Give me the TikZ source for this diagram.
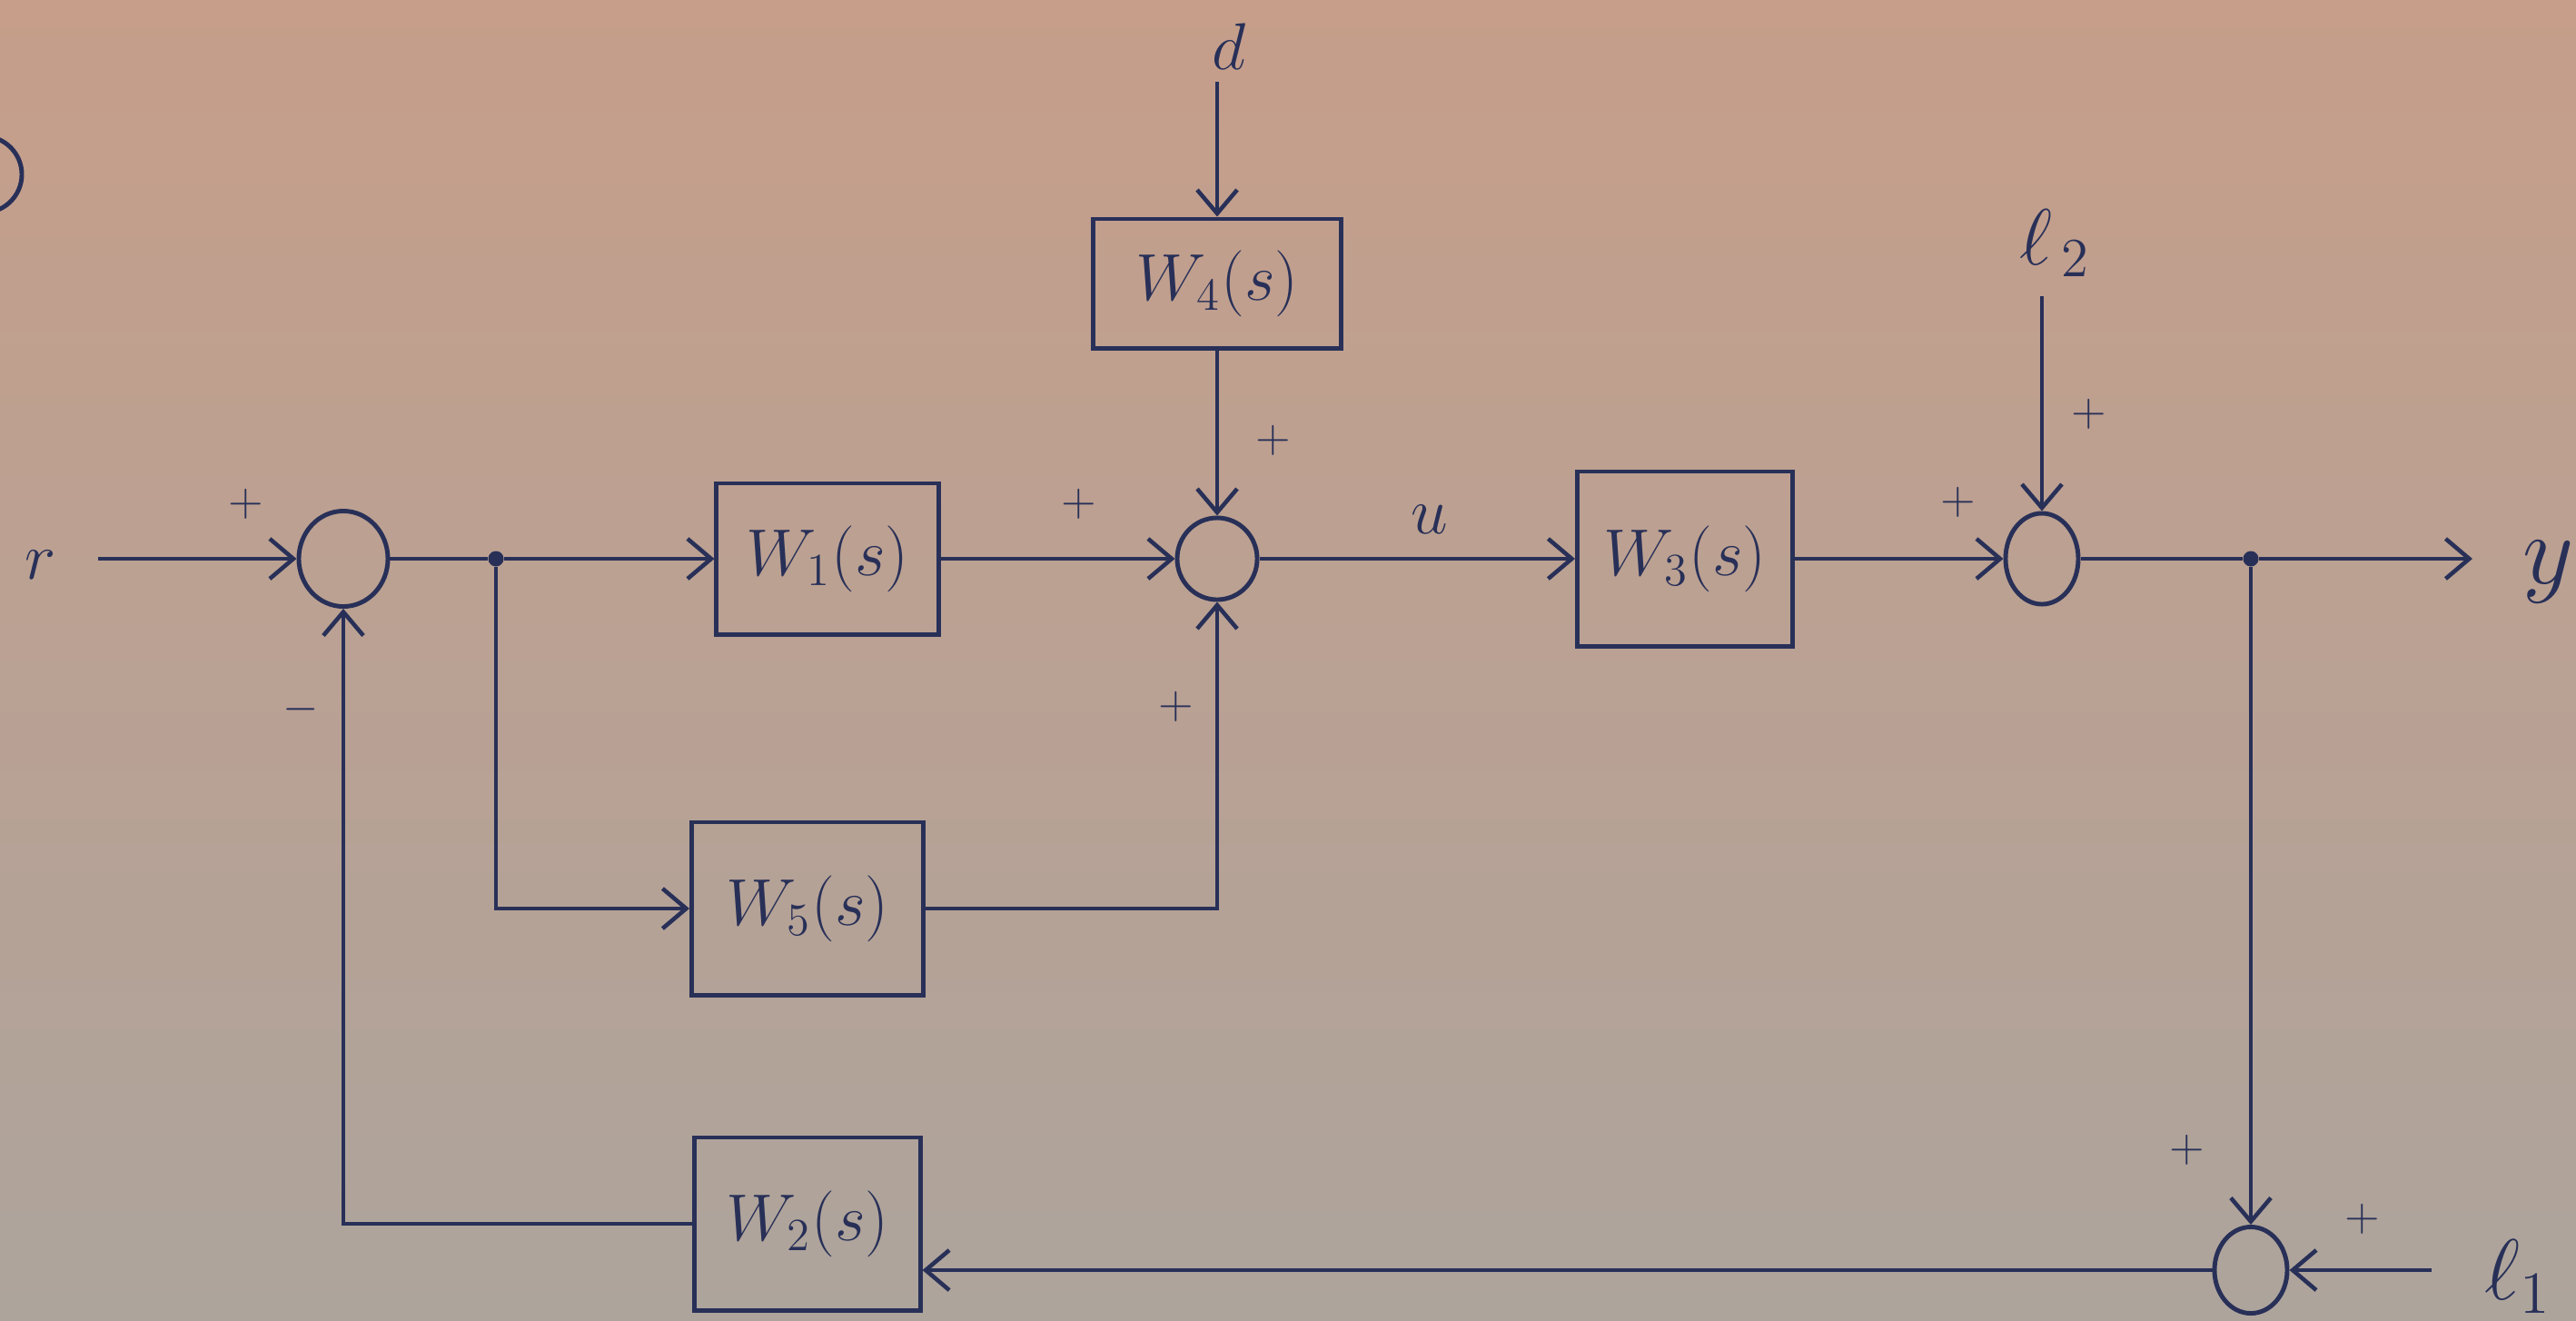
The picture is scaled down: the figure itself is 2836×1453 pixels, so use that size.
\documentclass[tikz,border=0pt]{standalone}
\usetikzlibrary{arrows.meta,shapes.geometric}
\definecolor{ink}{HTML}{283058}
\definecolor{papertop}{HTML}{C69E8A}
\definecolor{paperbot}{HTML}{ADA49C}
\tikzset{
  blk/.style={draw=ink, line width=1.4pt, rectangle, inner sep=0pt, text=ink,
              font=\fontsize{20.74}{24}\selectfont},
  sumnode/.style={draw=ink, line width=1.4pt, ellipse, inner sep=0pt},
  sig/.style={draw=ink, line width=1.3pt, -{Straight Barb[length=2.6mm,width=4.4mm,line width=1.3pt]}},
  wire/.style={draw=ink, line width=1.3pt},
  junc/.style={circle, fill=ink, inner sep=0pt, minimum size=0.17cm},
  pm/.style={text=ink, font=\fontsize{14.4}{17}\selectfont, inner sep=0pt},
  lbl/.style={text=ink, font=\fontsize{20.74}{24}\selectfont, inner sep=0pt},
}
\begin{document}
\begin{tikzpicture}[x=0.01cm, y=-0.01cm]
\shade[top color=papertop, bottom color=paperbot] (0,0) rectangle (2836,1453);
\useasboundingbox (0,0) rectangle (2836,1453);

% partial circle at top-left edge
\draw[ink, line width=1.4pt] (-18,192) circle (0.42cm);

% blocks
\node[blk, minimum width=2.44cm, minimum height=1.66cm] (W1) at (911,615) {$W_1(s)$};
\node[blk, minimum width=2.73cm, minimum height=1.42cm] (W4) at (1340,312) {$W_4(s)$};
\node[blk, minimum width=2.55cm, minimum height=1.90cm] (W5) at (889,1000) {$W_5(s)$};
\node[blk, minimum width=2.37cm, minimum height=1.92cm] (W3) at (1855,615) {$W_3(s)$};
\node[blk, minimum width=2.48cm, minimum height=1.90cm] (W2) at (889,1347) {$W_2(s)$};

% summing junctions
\node[sumnode, minimum width=0.98cm, minimum height=1.05cm] (S1) at (378,615) {};
\node[sumnode, minimum width=0.88cm, minimum height=0.90cm] (S2) at (1340,615) {};
\node[sumnode, minimum width=0.80cm, minimum height=1.00cm] (S3) at (2248,615) {};
\node[sumnode, minimum width=0.80cm, minimum height=0.95cm] (S4) at (2478,1398) {};

% branch points
\node[junc] (J1) at (546,615) {};
\node[junc] (J2) at (2478,615) {};

% free ends
\coordinate (rin) at (108,615);
\coordinate (din) at (1340,90);
\coordinate (e2in) at (2248,326);
\coordinate (yout) at (2722,615);
\coordinate (e1in) at (2677,1398);

% signal labels
\node[lbl] (r) at (45,622) {$r$};
\node[lbl] (d) at (1353,51) {$d$};
\node[lbl] (u) at (1574,572) {$u$};
\node[lbl] (e2) at (2262,268) {\scalebox{1.2}{$\ell_{\,2}$}};
\node[lbl] (y) at (2806,630) {\scalebox{1.5}{$y$}};
\node[lbl] (e1) at (2772,1405) {\scalebox{1.3}{$\ell_1$}};

% signs
\node[pm] (p1) at (271,555) {$+$};
\node[pm] (m1) at (331,781) {$-$};
\node[pm] (p2) at (1188,555) {$+$};
\node[pm] (p3) at (1402,485) {$+$};
\node[pm] (p4) at (1295,778) {$+$};
\node[pm] (p5) at (2156,553) {$+$};
\node[pm] (p6) at (2300,456) {$+$};
\node[pm] (p7) at (2408,1266) {$+$};
\node[pm] (p8) at (2601,1342) {$+$};

% connectors
\draw[sig] (rin) -- (S1.west);
\draw[wire] (S1.east) -- (J1);
\draw[sig] (J1) -- (W1.west);
\draw[sig] (J1) |- (W5.west);
\draw[sig] (W1.east) -- (S2.west);
\draw[sig] (din) -- (W4.north);
\draw[sig] (W4.south) -- (S2.north);
\draw[sig] (W5.east) -| (S2.south);
\draw[sig] (S2.east) -- (W3.west);
\draw[sig] (W3.east) -- (S3.west);
\draw[sig] (e2in) -- (S3.north);
\draw[wire] (S3.east) -- (J2);
\draw[sig] (J2) -- (yout);
\draw[sig] (J2) -- (S4.north);
\draw[sig] (e1in) -- (S4.east);
\draw[sig] (S4.west) -- (S4.west -| W2.east);
\draw[sig] (W2.west) -| (S1.south);
\end{tikzpicture}
\end{document}
